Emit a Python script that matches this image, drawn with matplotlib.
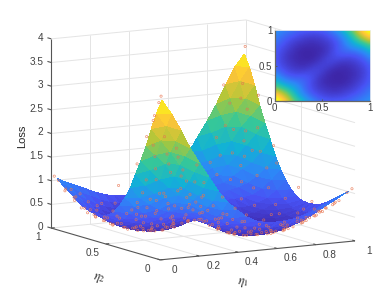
import numpy as np
import matplotlib
matplotlib.use('Agg')
import matplotlib.pyplot as plt
from matplotlib.colors import LinearSegmentedColormap, Normalize
from mpl_toolkits.mplot3d import proj3d

plt.rcParams['font.family'] = ['Liberation Sans', 'DejaVu Sans']
plt.rcParams['mathtext.fontset'] = 'stix'

# loss, rows are eta2 = 0..1, columns eta1 = 0..1
loss_grid = [
    [3.35, 3.05, 2.69, 2.29, 1.95, 1.64, 1.32, 1.07, .88, .72, .61, .56, .54, .55, .57, .62, .69, .78, .87, .95, 1.05],
    [3.05, 2.77, 2.43, 2.09, 1.74, 1.38, 1.09, .87, .69, .55, .47, .42, .40, .41, .44, .48, .56, .65, .74, .85, .95],
    [2.69, 2.43, 2.17, 1.88, 1.52, 1.19, .93, .71, .54, .44, .36, .31, .29, .29, .32, .38, .44, .52, .63, .74, .87],
    [2.29, 2.09, 1.88, 1.60, 1.33, 1.07, .81, .60, .46, .35, .28, .23, .20, .20, .23, .28, .34, .42, .52, .65, .78],
    [1.95, 1.74, 1.52, 1.33, 1.15, .95, .74, .56, .41, .30, .22, .17, .14, .14, .16, .19, .26, .34, .44, .56, .69],
    [1.64, 1.38, 1.19, 1.07, .95, .82, .70, .55, .40, .28, .19, .13, .11, .10, .10, .14, .19, .28, .38, .48, .62],
    [1.32, 1.09, .93, .81, .74, .70, .63, .54, .42, .29, .19, .13, .09, .07, .08, .10, .16, .23, .32, .44, .57],
    [1.07, .87, .71, .60, .56, .55, .54, .50, .43, .33, .23, .15, .09, .07, .07, .10, .14, .20, .29, .41, .55],
    [.88, .69, .54, .46, .41, .40, .42, .43, .41, .37, .29, .19, .13, .09, .09, .11, .14, .20, .29, .40, .54],
    [.72, .55, .44, .35, .30, .28, .29, .33, .37, .37, .33, .27, .19, .15, .13, .13, .17, .23, .31, .42, .56],
    [.61, .47, .36, .28, .22, .19, .19, .23, .29, .33, .35, .33, .29, .23, .19, .19, .22, .28, .36, .47, .61],
    [.56, .42, .31, .23, .17, .13, .13, .15, .19, .27, .33, .37, .37, .33, .29, .28, .30, .35, .44, .55, .72],
    [.54, .40, .29, .20, .14, .11, .09, .09, .13, .19, .29, .37, .41, .43, .42, .40, .41, .46, .54, .69, .88],
    [.55, .41, .29, .20, .14, .10, .07, .07, .09, .15, .23, .33, .43, .50, .54, .55, .56, .60, .71, .87, 1.07],
    [.57, .44, .32, .23, .16, .10, .08, .07, .09, .13, .19, .29, .42, .54, .63, .70, .74, .81, .93, 1.09, 1.32],
    [.62, .48, .38, .28, .19, .14, .10, .10, .11, .13, .19, .28, .40, .55, .70, .82, .95, 1.07, 1.19, 1.38, 1.64],
    [.69, .56, .44, .34, .26, .19, .16, .14, .14, .17, .22, .30, .41, .56, .74, .95, 1.15, 1.33, 1.52, 1.74, 1.95],
    [.78, .65, .52, .42, .34, .28, .23, .20, .20, .23, .28, .35, .46, .60, .81, 1.07, 1.33, 1.60, 1.88, 2.09, 2.29],
    [.87, .74, .63, .52, .44, .38, .32, .29, .29, .31, .36, .44, .54, .71, .93, 1.19, 1.52, 1.88, 2.17, 2.43, 2.69],
    [.95, .85, .74, .65, .56, .48, .44, .41, .40, .42, .47, .55, .69, .87, 1.09, 1.38, 1.74, 2.09, 2.43, 2.77, 3.05],
    [1.05, .95, .87, .78, .69, .62, .57, .55, .54, .56, .61, .72, .88, 1.07, 1.32, 1.64, 1.95, 2.29, 2.69, 3.05, 3.30],
]

# sampled points scattered around the surface
pts_eta1 = [
    .45, .52, .58, .63, .68, .72, .76, .80, .84, .88, .91, .94, .97, .99,
    .03, .02, .04, .02, .05, .03, .02, .06, .03, .05, .02, .04, .02, .01,
    .55, .60, .65, .70, .75, .78, .82, .85, .90, .93, .60, .66, .72, .58, .62,
    .75, .80, .86, .92, .95, .85, .78, .90, .96, .88, .95, .70, .65, .75, .82,
    .92, .70, .60, .78, .85, .92, .80, .88, .95, .90, .96, .99,
    .05, .01, .02, .10, .12, .08, .18, .05, .25, .15, .22, .30, .10, .20, .28,
    .35, .05, .40, .10, .35, .20, .45, .15, .30, .38, .28, .50, .22, .42, .30,
    .48, .38, .52, .30, .45, .55, .45, .25, .33, .28, .18, .12, .10, .20, .15,
    .25, .35, .40, .48, .55, .42, .50, .32, .22, .12, .40, .55, .48, .62, .70,
    .72, .65, .99, .99, .98, .99, .99, .88, .01, .01, .02, .02, .01, .01,
    .15, .18, .22, .08, .08, .12, .15, .08, .10, .07, .15, .20, .25, .30, .35,
    .38, .22, .28, .32, .40, .42, .50, .55, .50, .48, .42, .55, .60, .52, .48,
    .40, .55, .62, .66, .68, .72, .76, .78, .70, .68, .64, .58, .72, .82, .88,
    .85, .90, .88, .96, .96, .97, .93, .90, .85, .80, .72, .78, .86, .95, .90,
    .82, .75, .84, .76, .82, .92, .97, .86, .94, .90, .88, .95,
    .08, .04, .12, .06, .15, .10, .18, .12, .22, .04, .20, .15, .30, .25, .08,
    .36, .25, .35, .32, .35, .12, .40, .18, .45, .28, .25, .12, .30, .05, .18,
    .25, .30, .18, .25, .38, .45, .58, .55, .65, .14, .08, .35, .45,
]
pts_eta2 = [
    .03, .02, .04, .02, .05, .03, .02, .06, .03, .05, .02, .04, .02, .01,
    .45, .52, .58, .63, .68, .72, .76, .80, .84, .88, .91, .94, .97, .99,
    .15, .10, .18, .12, .20, .10, .16, .10, .12, .08, .28, .30, .25, .35, .38,
    .33, .28, .22, .18, .25, .38, .42, .35, .40, .48, .55, .50, .55, .55, .60,
    .65, .68, .70, .75, .78, .80, .88, .90, .90, .97, .96, .99,
    .05, .01, .10, .03, .12, .18, .08, .25, .05, .22, .15, .10, .30, .28, .20,
    .05, .35, .10, .40, .20, .35, .15, .45, .30, .28, .38, .22, .50, .30, .42,
    .38, .48, .30, .52, .45, .45, .55, .60, .67, .72, .62, .55, .70, .75, .85,
    .82, .78, .65, .60, .62, .72, .78, .88, .93, .95, .92, .85, .95, .92, .85,
    .95, .78, .50, .70, .36, .87, .73, .99, .03, .07, .10, .16, .40, .23,
    .50, .48, .42, .50, .60, .65, .70, .75, .82, .90, .78, .68, .70, .62, .60,
    .55, .60, .55, .47, .40, .50, .35, .30, .28, .22, .22, .22, .18, .12, .08,
    .05, .07, .09, .12, .20, .16, .14, .22, .32, .38, .44, .50, .42, .34, .28,
    .18, .20, .14, .12, .20, .32, .40, .55, .50, .48, .60, .65, .68, .72, .72,
    .72, .82, .84, .90, .95, .86, .84, .94, .94, .84, .80, .78,
    .08, .12, .05, .15, .06, .10, .16, .22, .12, .20, .04, .30, .15, .25, .36,
    .08, .35, .25, .35, .12, .35, .18, .40, .28, .45, .12, .25, .05, .30, .25,
    .18, .95, .90, .88, .85, .85, .78, .95, .97, .91, .96, .70, .68,
]
pts_loss = [
    .61, .53, .43, .48, .43, .50, .58, .53, .68, .71, .84, .85, 1.02, 1.10,
    .61, .53, .43, .48, .43, .50, .58, .53, .68, .71, .84, .85, 1.02, 1.10,
    .23, .29, .17, .28, .20, .40, .35, .52, .58, .74, .09, .07, .12, .11, .10,
    .10, .17, .33, .52, .48, .20, .13, .29, .42, .30, .55, .19, .33, .28, .42,
    .72, .59, .42, .88, 1.13, 1.41, 1.30, 1.80, 2.20, 2.30, 2.70, 3.45,
    2.55, 3.45, 2.35, 2.30, 1.72, 1.54, 1.54, 1.23, 1.23, 1.13, 1.13, .86, .86, .81, .81,
    .80, .80, .54, .54, .55, .55, .35, .35, .63, .47, .47, .20, .20, .36, .36,
    .30, .30, .16, .16, .37, .27, .27, .11, .07, .10, .16, .27, .32, .19, .42,
    .23, .12, .09, .24, .35, .10, .20, .26, .48, .71, .33, .35, .45, .64, .78,
    1.08, .54, .80, 1.18, .60, 2.50, 1.53, 2.68, 3.30, 3.00, 2.87, 2.49, 1.30, 1.87,
    .28, .27, .35, .40, .33, .25, .22, .42, .47, .70, .32, .15, .10, .08, .09,
    .17, .13, .13, .26, .41, .31, .22, .12, .19, .23, .35, .15, .17, .30, .43,
    .66, .38, .31, .26, .15, .22, .30, .20, .08, .08, .14, .30, .10, .17, .30,
    .37, .44, .50, .73, .58, .47, .35, .44, .28, .20, .40, .54, .72, 1.08, .94,
    .84, .95, 1.36, 1.15, 1.62, 1.78, 1.84, 1.86, 2.41, 1.59, 1.30, 1.39,
    2.15, 2.09, 2.09, 1.80, 1.80, 1.92, 1.28, 1.21, 1.21, 1.54, 1.54, .78, .78, .82, .69,
    .69, .55, .55, .52, .64, .64, .42, .42, .28, .28, 1.04, 1.04, .99, .99, .95,
    .95, .44, .47, .34, .20, .23, .35, .55, .86, .56, .81, .07, .13,
]

eta1_ticks = [0, .2, .4, .6, .8, 1]
eta1_labels = ['0', '0.2', '0.4', '0.6', '0.8', '1']
eta2_ticks = [0, .5, 1]
eta2_labels = ['0', '0.5', '1']
loss_ticks = [0, .5, 1, 1.5, 2, 2.5, 3, 3.5, 4]
loss_labels = ['0', '0.5', '1', '1.5', '2', '2.5', '3', '3.5', '4']

parula = LinearSegmentedColormap.from_list('parula', [
    (.2422, .1504, .6603), (.2810, .3228, .9579), (.1786, .5289, .9682),
    (.0689, .6948, .8394), (.2161, .7843, .5923), (.6720, .7793, .2227),
    (.9970, .7659, .2199), (.9769, .9839, .0805)])

W, H = 390, 293
fig = plt.figure(figsize=(W / 100, H / 100), dpi=100)
side = 356.6
ax = fig.add_axes([20 / W, -30 / H, side / W, side / H], projection='3d', computed_zorder=False)
ax.set_proj_type('ortho')
ax.view_init(elev=9.7, azim=-120)
ax.set_box_aspect((225, 218, 192))
ax.set_xlim(0, 1, view_margin=0)
ax.set_ylim(0, 1, view_margin=0)
ax.set_zlim(0, 4, view_margin=0)
ax.set_axis_off()

grid_c = '#e4e4e4'
axis_c = '#555555'
txt_c = '#404040'


def line3(xs, ys, zs, c=grid_c, lw=.7, z=0):
    ax.plot(xs, ys, zs, color=c, lw=lw, zorder=z, solid_capstyle='butt')


for u in eta1_ticks[1:]:
    line3([u, u], [0, 1], [0, 0])
    line3([u, u], [1, 1], [0, 4])
for v in eta2_ticks[1:]:
    line3([0, 1], [v, v], [0, 0])
    line3([1, 1], [v, v], [0, 4])
for l in loss_ticks[1:]:
    line3([0, 1], [1, 1], [l, l])
    line3([1, 1], [0, 1], [l, l])

Z = np.array(loss_grid)
n = Z.shape[0]
grid = np.linspace(.02, .98, n)
U, V = np.meshgrid(grid, grid)
# split every cell along eta1 + eta2 = const so the colour runs in level bands
tris = []
for j in range(n - 1):
    for i in range(n - 1):
        a, b, c, d = j * n + i, j * n + i + 1, (j + 1) * n + i, (j + 1) * n + i + 1
        tris += [[a, b, c], [b, d, c]]
norm = Normalize(Z.min(), Z.max())
ax.plot_trisurf(U.ravel(), V.ravel(), Z.ravel(), triangles=tris, cmap=parula, norm=norm, linewidth=0,
                antialiased=False, shade=False, zorder=2)

ax.scatter(pts_eta1, pts_eta2, pts_loss, s=2.6, facecolors='none', edgecolors='#e8734e',
           linewidths=.5, alpha=.8, depthshade=False, zorder=3)

# axis lines and ticks
line3([0, 0], [0, 1], [0, 0], axis_c, .8, 1)
line3([0, 1], [0, 0], [0, 0], axis_c, .8, 1)
line3([0, 0], [1, 1], [0, 4], axis_c, .8, 1)
for u in eta1_ticks:
    line3([u, u], [0, .025], [0, 0], axis_c, .8, 1)
for v in eta2_ticks:
    line3([0, .018], [v, v], [0, 0], axis_c, .8, 1)
for l in loss_ticks:
    line3([0, 0], [1, 1.035], [l, l], axis_c, .8, 1)


def label3(x, y, z, s, dx, dy, ha='center'):
    px, py, _ = proj3d.proj_transform(x, y, z, ax.get_proj())
    ax.annotate(s, (px, py), xytext=(dx * .72, dy * .72), textcoords='offset points', ha=ha,
                va='center', fontsize=7.2, color=txt_c, annotation_clip=False, zorder=5)


for u, s in zip(eta1_ticks, eta1_labels):
    label3(u, 0, 0, s, 14, -10)
for v, s in zip(eta2_ticks, eta2_labels):
    label3(0, v, 0, s, -13, -9)
for l, s in zip(loss_ticks, loss_labels):
    label3(0, 1, l, s, -8, 1, ha='right')

fig.text(22 / W, 1 - 136 / H, 'Loss', rotation=90, fontsize=8, color='#262626', ha='center', va='center')
fig.text(243 / W, 1 - 283 / H, r'$\eta_1$', rotation=-4, fontsize=9, color='#262626', ha='center', va='center')
fig.text(99 / W, 1 - 279 / H, r'$\eta_2$', rotation=-10, fontsize=9, color='#262626', ha='center', va='center')

# inset heat map
ins = fig.add_axes([274.5 / W, 1 - 101 / H, 95.5 / W, 71 / H])
ins.imshow(Z, origin='lower', extent=[0, 1, 0, 1], aspect='auto', cmap=parula, norm=norm, interpolation='bilinear')
ins.set_xticks([0, .5, 1], ['0', '0.5', '1'])
ins.set_yticks([0, .5, 1], ['0', '0.5', '1'])
ins.tick_params(length=1.5, width=.6, pad=1.5, labelsize=7, color=axis_c, labelcolor=txt_c, direction='in')
for k in ['left', 'bottom']:
    ins.spines[k].set_color('#666666')
    ins.spines[k].set_linewidth(.9)
for k in ['top', 'right']:
    ins.spines[k].set_color('#eeeeee')
    ins.spines[k].set_linewidth(.6)

fig.savefig('out.png', dpi=100)
